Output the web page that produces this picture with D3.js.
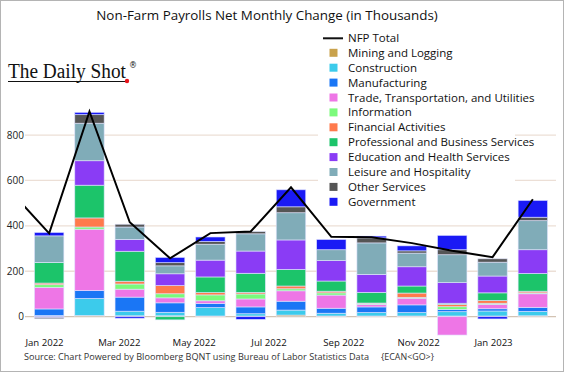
<!DOCTYPE html>
<html>
<head>
<meta charset="utf-8">
<script src="https://cdn.jsdelivr.net/npm/d3@7"></script>
<style>
  body { margin: 0; background: #fff; }
  svg { font-family: "Open Sans", sans-serif; }
</style>
</head>
<body>
<svg id="chart" width="564" height="372"></svg>
<script>
// months shown as bars
const months = ["Jan 2022", "Feb 2022", "Mar 2022", "Apr 2022", "May 2022", "Jun 2022",
    "Jul 2022", "Aug 2022", "Sep 2022", "Oct 2022", "Nov 2022", "Dec 2022", "Jan 2023"]
const tickLabels = ["Jan 2022", "Mar 2022", "May 2022", "Jul 2022", "Sep 2022", "Nov 2022", "Jan 2023"]
const yTicks = [0, 200, 400, 600, 800]

// sector changes, thousands (bottom to top of stack)
const mining        = [0, 5, 4, 4, 3, 3, 7, 3, 3, 3, 3, 3, 4]
const construction  = [5, 75, 20, 15, 37, 10, 22, 12, 15, 15, 19, 22, 19]
const manufacturing = [29, 35, 62, 42, 18, 30, 39, 22, 25, 34, 10, 10, 18]
const trade         = [95, 270, 35, 22, 12, 35, 46, 58, 10, 29, -81, 19, 60]
const information   = [12, 10, 23, 18, 26, 22, 9, 10, 4, 4, 12, 5, 4]
const financial     = [7, 40, 12, 36, 10, 7, 12, 7, 3, 19, 10, 12, 7]
const professional  = [91, 144, 132, -14, 69, 84, 73, 45, 47, 31, 5, 34, 78]
const education     = [-4, 108, 52, 52, 74, 98, 130, 90, 79, 85, 91, 74, 105]
const leisure       = [117, 165, 55, 35, 70, 76, 120, 48, 139, 60, 123, 61, 128]
const other         = [-5, 38, 12, 14, 12, 10, 26, 0, 22, 10, 22, 15, 15]
const government    = [15, 10, -7, 23, 20, -12, 75, 45, 8, 22, 63, -10, 74]

// NFP total, first value is Dec 2021
const nfpTotal = [560, 367, 904, 416, 257, 368, 375, 570, 352, 350, 324, 290, 262, 517]

const sectors = [
    {key: "mining", label: "Mining and Logging", values: mining, color: "#c9a24c"},
    {key: "construction", label: "Construction", values: construction, color: "#3ccbeb"},
    {key: "manufacturing", label: "Manufacturing", values: manufacturing, color: "#1a76f5"},
    {key: "trade", label: "Trade, Transportation, and Utilities", values: trade, color: "#ee76e6"},
    {key: "information", label: "Information", values: information, color: "#7bfa7b"},
    {key: "financial", label: "Financial Activities", values: financial, color: "#ff7a4c"},
    {key: "professional", label: "Professional and Business Services", values: professional, color: "#1cc46a"},
    {key: "education", label: "Education and Health Services", values: education, color: "#8a3cf5"},
    {key: "leisure", label: "Leisure and Hospitality", values: leisure, color: "#80acb8"},
    {key: "other", label: "Other Services", values: other, color: "#555555"},
    {key: "government", label: "Government", values: government, color: "#1a1af5"}
]

const svg = d3.select("#chart")
const W = 564, H = 372
const plotLeft = 25, plotRight = 556

// border
svg.append("rect")
    .attr("x", 0.5).attr("y", 0.5)
    .attr("width", W - 1).attr("height", H - 1)
    .attr("fill", "#fff")
    .attr("stroke", "#b4b4b4")

const x = d3.scaleBand()
    .domain(months)
    .range([29, 553])
    .paddingInner(0.27)
    .paddingOuter(0.135)
const step = x.step()
const cx = (i) => x(months[i]) + x.bandwidth() / 2

const y = d3.scaleLinear()
    .domain([-90, 950])
    .range([337.1, 101])

// gridlines
svg.append("g")
    .selectAll("line")
    .data(yTicks)
    .enter()
    .append("line")
    .attr("x1", plotLeft)
    .attr("x2", plotRight)
    .attr("y1", (d) => y(d))
    .attr("y2", (d) => y(d))
    .style("stroke", (d) => d === 0 ? "#d3c3b3" : "#ecdfd6")
    .style("stroke-width", "1.3px")

// y axis labels
svg.append("g")
    .selectAll("text")
    .data(yTicks)
    .enter()
    .append("text")
    .attr("x", 24)
    .attr("y", (d) => y(d))
    .attr("dy", "0.35em")
    .attr("text-anchor", "end")
    .style("font-size", "10px")
    .style("fill", "#222")
    .text((d) => d)

// stacked bars
const table = months.map((m, i) => {
    let row = {month: m}
    sectors.forEach((s) => { row[s.key] = s.values[i] })
    return row
})
const series = d3.stack()
    .keys(sectors.map((s) => s.key))
    .offset(d3.stackOffsetDiverging)(table)

svg.append("g")
    .selectAll("g")
    .data(series)
    .enter()
    .append("g")
    .attr("fill", (d, i) => sectors[i].color)
    .selectAll("rect")
    .data((d) => d)
    .enter()
    .append("rect")
    .attr("x", (d) => x(d.data.month))
    .attr("width", x.bandwidth())
    .attr("y", (d) => y(Math.max(d[0], d[1])))
    .attr("height", (d) => Math.abs(y(d[0]) - y(d[1])))
    .style("stroke", "rgba(225,230,255,0.75)")
    .style("stroke-width", "0.8px")

// NFP total line (clipped to plot)
svg.append("clipPath")
    .attr("id", "plotClip")
    .append("rect")
    .attr("x", plotLeft).attr("y", 0)
    .attr("width", plotRight - plotLeft).attr("height", H)

const line = d3.line()
    .x((d, i) => cx(0) + (i - 1) * step)
    .y((d) => y(d))

svg.append("path")
    .datum(nfpTotal)
    .attr("clip-path", "url(#plotClip)")
    .attr("d", line)
    .style("fill", "none")
    .style("stroke", "#000")
    .style("stroke-width", "2px")
    .style("stroke-linejoin", "miter")

// x axis labels
const xLabel = d3.scalePoint()
    .domain(months)
    .range([44.5, 493.5])
svg.append("g")
    .selectAll("text")
    .data(tickLabels)
    .enter()
    .append("text")
    .attr("x", (d) => xLabel(d))
    .attr("y", 346)
    .attr("text-anchor", "middle")
    .style("font-size", "9.6px")
    .style("fill", "#111")
    .text((d) => d)

// title
svg.append("text")
    .attr("x", 267)
    .attr("y", 20)
    .attr("text-anchor", "middle")
    .style("font-size", "13.4px")
    .style("fill", "#111")
    .text("Non-Farm Payrolls Net Monthly Change (in Thousands)")

// source
svg.append("text")
    .attr("x", 24)
    .attr("y", 360)
    .attr("textLength", 345)
    .attr("lengthAdjust", "spacingAndGlyphs")
    .style("font-size", "9.2px")
    .style("fill", "#333")
    .text("Source: Chart Powered by Bloomberg BQNT using Bureau of Labor Statistics Data")
svg.append("text")
    .attr("x", 381)
    .attr("y", 360)
    .attr("textLength", 53)
    .attr("lengthAdjust", "spacingAndGlyphs")
    .style("font-size", "9.2px")
    .style("fill", "#333")
    .text("{ECAN<GO>}")

// logo
const logo = svg.append("g")
logo.append("text")
    .attr("x", 8)
    .attr("y", 78)
    .attr("textLength", 118)
    .attr("lengthAdjust", "spacingAndGlyphs")
    .style("font-family", "'Liberation Serif', 'DejaVu Serif', serif")
    .style("font-size", "20px")
    .style("fill", "#111")
    .text("The Daily Shot")
logo.append("text")
    .attr("x", 129)
    .attr("y", 68)
    .style("font-family", "'DejaVu Sans', sans-serif")
    .style("font-size", "8px")
    .style("fill", "#111")
    .text("®")
logo.append("line")
    .attr("x1", 8).attr("x2", 127)
    .attr("y1", 81.5).attr("y2", 81.5)
    .style("stroke", "#111")
    .style("stroke-width", "1px")
logo.append("circle")
    .attr("cx", 127).attr("cy", 81)
    .attr("r", 2.2)
    .attr("fill", "#e8141b")

// legend
const legend = svg.append("g")
legend.append("rect")
    .attr("x", 318).attr("y", 28)
    .attr("width", 197).attr("height", 182)
    .attr("fill", "#fff")
legend.append("line")
    .attr("x1", 323).attr("x2", 343)
    .attr("y1", 38.3).attr("y2", 38.3)
    .style("stroke", "#111")
    .style("stroke-width", "2px")
legend.append("text")
    .attr("x", 348)
    .attr("y", 38.3)
    .attr("dy", "0.35em")
    .style("font-size", "11.5px")
    .style("fill", "#111")
    .text("NFP Total")
const items = legend.selectAll(".legendItem")
    .data(sectors)
    .enter()
    .append("g")
    .attr("class", "legendItem")
    .attr("transform", (d, i) => "translate(0," + (52.8 + i * 14.9) + ")")
items.append("rect")
    .attr("x", 329.5).attr("y", -4)
    .attr("width", 8).attr("height", 8)
    .attr("fill", (d) => d.color)
items.append("text")
    .attr("x", 348)
    .attr("dy", "0.35em")
    .style("font-size", "11.5px")
    .style("fill", "#111")
    .text((d) => d.label)
</script>
</body>
</html>
